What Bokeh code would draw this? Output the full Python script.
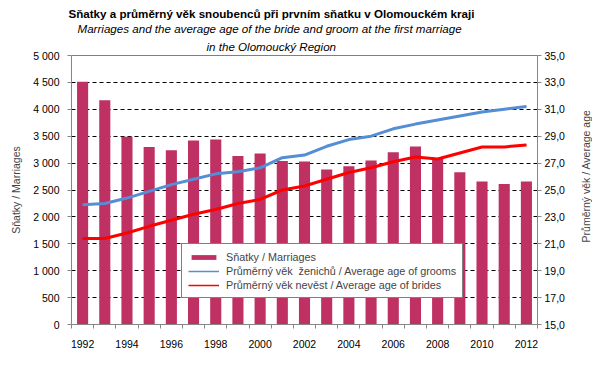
import math
from bokeh.plotting import figure
from bokeh.layouts import row, column
from bokeh.models import (Range1d, LinearAxis, FixedTicker, Span, Legend,
                          LegendItem, Title, ColumnDataSource, Spacer)
from bokeh.embed import file_html
from bokeh.resources import INLINE

years = [1992, 1993, 1994, 1995, 1996, 1997, 1998, 1999, 2000, 2001, 2002,
         2003, 2004, 2005, 2006, 2007, 2008, 2009, 2010, 2011, 2012]
marriages = [4510, 4170, 3490, 3300, 3240, 3420, 3440, 3130, 3180, 3040, 3030,
             2880, 2940, 3050, 3200, 3310, 3080, 2830, 2660, 2610, 2660]
age_grooms = [23.9, 24.0, 24.4, 24.9, 25.4, 25.8, 26.2, 26.35, 26.65, 27.4, 27.6,
              28.25, 28.75, 29.0, 29.55, 29.9, 30.2, 30.5, 30.8, 31.0, 31.2]
age_brides = [21.4, 21.4, 21.8, 22.3, 22.75, 23.2, 23.55, 24.0, 24.3, 25.0, 25.3,
              25.8, 26.3, 26.65, 27.1, 27.45, 27.3, 27.75, 28.2, 28.2, 28.35]

x_tick_years = [1992, 1994, 1996, 1998, 2000, 2002, 2004, 2006, 2008, 2010, 2012]
x_bounds = [1991.5, 1992.5, 1993.5, 1994.5, 1995.5, 1996.5, 1997.5, 1998.5, 1999.5,
            2000.5, 2001.5, 2002.5, 2003.5, 2004.5, 2005.5, 2006.5, 2007.5, 2008.5,
            2009.5, 2010.5, 2011.5, 2012.5]
left_ticks = [0, 500, 1000, 1500, 2000, 2500, 3000, 3500, 4000, 4500, 5000]
left_labels = ["0", "500", "1 000", "1 500", "2 000", "2 500", "3 000", "3 500",
               "4 000", "4 500", "5 000"]
grid_ticks = [500, 1000, 1500, 2000, 2500, 3000, 3500, 4000, 4500]
right_ticks = [15, 17, 19, 21, 23, 25, 27, 29, 31, 33, 35]
right_labels = ["15,0", "17,0", "19,0", "21,0", "23,0", "25,0", "27,0", "29,0",
                "31,0", "33,0", "35,0"]

FONT = "Liberation Sans"
BAR = "#BF3063"
BLUE = "#558ED5"
RED = "#FF0000"
AXIS = "#868686"

src = ColumnDataSource(dict(year=years, m=marriages, g=age_grooms, b=age_brides))

p = figure(frame_width=466, frame_height=269, output_backend="svg",
           toolbar_location=None, x_range=Range1d(1991.5, 2012.5),
           y_range=Range1d(0, 5000), min_border_left=0, min_border_right=0,
           min_border_top=0, min_border_bottom=0)
p.extra_y_ranges = {"age": Range1d(15, 35)}
p.outline_line_color = None
p.background_fill_color = "white"
p.border_fill_color = "white"

# titles (added bottom-up), left-aligned with pixel offsets from the frame's left edge
for txt, style, size, so, off in [
        ("in the Olomoucký Region", "italic", "11.6px", 6, 135),
        ("Marriages and the average age of the bride and groom at the first marriage", "italic", "11.6px", 0, 6),
        ("Sňatky a průměrný věk snoubenců při prvním sňatku v Olomouckém kraji", "bold", "11.6px", 0, -3)]:
    t = Title(text=txt, align="left", offset=off, text_font=FONT,
              text_font_style=style, text_font_size=size, text_color="black",
              standoff=so)
    p.add_layout(t, "above")

bars = p.vbar(x="year", top="m", width=0.5, source=src, fill_color=BAR,
              line_color=None)

# thin lines for legend swatches (hidden underneath)
g_thin = p.line("year", "g", source=src, y_range_name="age", line_color=BLUE, line_width=1.5)
b_thin = p.line("year", "b", source=src, y_range_name="age", line_color=RED, line_width=1.5)
p.line("year", "g", source=src, y_range_name="age", line_color=BLUE, line_width=3)
p.line("year", "b", source=src, y_range_name="age", line_color=RED, line_width=3)

p.add_layout(Span(location=5000, dimension="width", line_color="black", line_width=1))

# grid
p.xgrid.visible = False
p.ygrid.ticker = FixedTicker(ticks=grid_ticks)
p.ygrid.grid_line_color = "black"
p.ygrid.grid_line_dash = "4 3"
p.ygrid.grid_line_width = 1

# x axis
xa = p.xaxis[0]
xa.ticker = FixedTicker(ticks=x_tick_years, minor_ticks=x_bounds)
xa.major_tick_out = 0
xa.major_tick_in = 0
xa.minor_tick_out = 4
xa.minor_tick_in = 0
xa.minor_tick_line_color = AXIS
xa.axis_line_color = AXIS
xa.major_label_text_font = FONT
xa.major_label_text_font_size = "10.5px"
xa.major_label_text_color = "black"
xa.major_label_standoff = 11

# left axis
ya = p.yaxis[0]
ya.ticker = FixedTicker(ticks=left_ticks)
ya.major_label_overrides = {t: l for t, l in zip(left_ticks, left_labels)}
ya.minor_tick_out = 0
ya.minor_tick_in = 0
ya.major_tick_out = 4
ya.major_tick_in = 0
ya.major_tick_line_color = AXIS
ya.axis_line_color = AXIS
ya.major_label_text_font = FONT
ya.major_label_text_font_size = "10.5px"
ya.major_label_text_color = "black"
ya.major_label_standoff = 8
ya.axis_label = "Sňatky / Marriages"
ya.axis_label_text_font = FONT
ya.axis_label_text_font_size = "10.5px"
ya.axis_label_text_font_style = "normal"
ya.axis_label_standoff = 8

# right axis (ticks and labels)
ra = LinearAxis(y_range_name="age", ticker=FixedTicker(ticks=right_ticks))
ra.major_label_overrides = {t: l for t, l in zip(right_ticks, right_labels)}
ra.minor_tick_out = 0
ra.minor_tick_in = 0
ra.major_tick_out = 4
ra.major_tick_in = 0
ra.major_tick_line_color = AXIS
ra.axis_line_color = AXIS
ra.major_label_text_font = FONT
ra.major_label_text_font_size = "10.5px"
ra.major_label_text_color = "black"
ra.major_label_standoff = 3
p.add_layout(ra, "right")

legend = Legend(items=[
    LegendItem(label="Sňatky / Marriages", renderers=[bars]),
    LegendItem(label="Průměrný věk  ženichů / Average age of grooms", renderers=[g_thin]),
    LegendItem(label="Průměrný věk nevěst / Average age of brides", renderers=[b_thin]),
], location=(110, 26))
legend.border_line_color = "black"
legend.border_line_width = 1
legend.background_fill_color = "white"
legend.background_fill_alpha = 1
legend.label_text_font = FONT
legend.label_text_font_size = "10.8px"
legend.label_height = 13
legend.glyph_height = 6
legend.glyph_width = 31
legend.label_standoff = 7
legend.padding = 6
legend.spacing = 1
legend.margin = 0
p.add_layout(legend, "center")

# narrow companion figure whose left axis carries the right-hand title (reads upwards)
q = figure(frame_width=1, frame_height=269, output_backend="svg",
           toolbar_location=None, x_range=Range1d(0, 1), y_range=Range1d(15, 35),
           min_border_left=0, min_border_right=0, min_border_top=0,
           min_border_bottom=0, x_axis_location=None)
q.outline_line_color = None
q.xgrid.visible = False
q.ygrid.visible = False
q.background_fill_color = "white"
q.border_fill_color = "white"
qa = q.yaxis[0]
qa.ticker = FixedTicker(ticks=[])
qa.axis_line_color = None
qa.major_tick_line_color = None
qa.minor_tick_line_color = None
qa.axis_label = "Průměrný věk / Average age"
qa.axis_label_text_font = FONT
qa.axis_label_text_font_size = "10.5px"
qa.axis_label_text_font_style = "normal"
qa.axis_label_standoff = 0

layout = column(Spacer(height=4),
                row(Spacer(width=7), p, Spacer(width=9), column(Spacer(height=37), q, spacing=0),
                    spacing=0),
                spacing=0)
open("out.html", "w").write(file_html(layout, INLINE))
